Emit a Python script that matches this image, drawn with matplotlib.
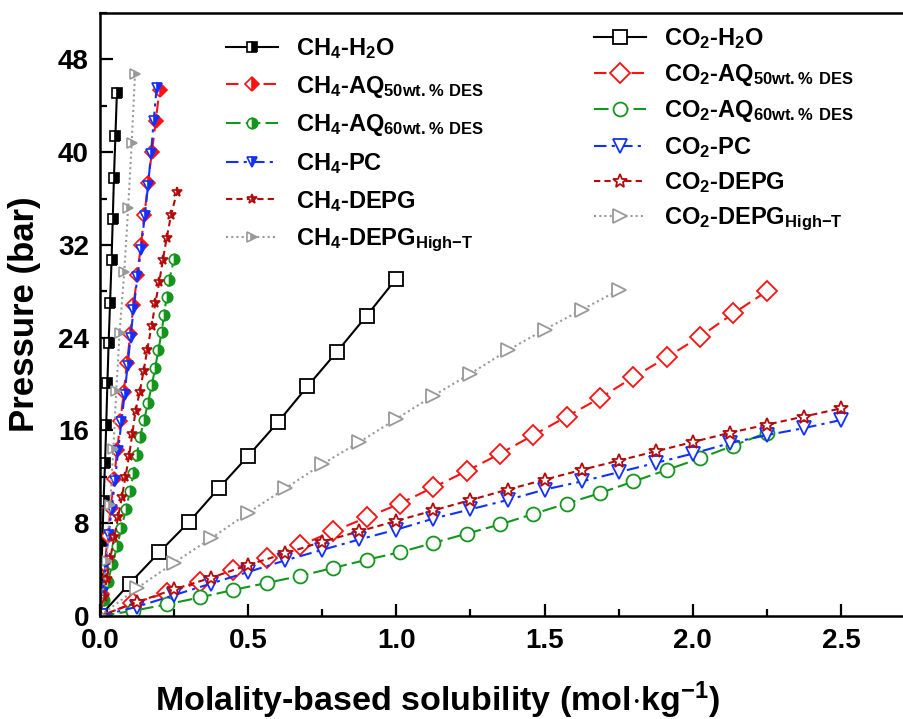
import matplotlib
matplotlib.use("Agg")
import matplotlib.pyplot as plt
from matplotlib.ticker import MultipleLocator

plt.rcParams["font.family"] = ["Liberation Sans", "DejaVu Sans"]
plt.rcParams["font.weight"] = "bold"
plt.rcParams["mathtext.fontset"] = "custom"
plt.rcParams["mathtext.rm"] = "Liberation Sans:bold"
plt.rcParams["mathtext.default"] = "rm"

# ---- CH4 (steep curves near the y axis) ----
ch4_h2o_x = [0, 0.004, 0.008, 0.012, 0.017, 0.021, 0.025, 0.029, 0.034, 0.039, 0.043, 0.047, 0.052, 0.057]
ch4_h2o_y = [0, 3.2, 6.5, 9.9, 13.2, 16.5, 20.1, 23.5, 27.0, 30.7, 34.2, 37.8, 41.4, 45.1]

ch4_aq50_x = [0, 0.007, 0.016, 0.026, 0.036, 0.047, 0.058, 0.069, 0.080, 0.091, 0.102, 0.113,
              0.126, 0.138, 0.150, 0.162, 0.175, 0.188, 0.201]
ch4_aq50_y = [0, 1.9, 4.4, 6.9, 9.3, 11.8, 14.3, 16.8, 19.3, 21.8, 24.3, 26.8,
              29.4, 32.0, 34.6, 37.3, 40.0, 42.7, 45.4]

ch4_aq60_x = [0, 0.012, 0.026, 0.042, 0.058, 0.072, 0.088, 0.101, 0.113, 0.124, 0.135, 0.149,
              0.162, 0.175, 0.186, 0.197, 0.208, 0.216, 0.225, 0.234, 0.250]
ch4_aq60_y = [0, 1.4, 2.9, 4.5, 6.0, 7.6, 9.2, 10.8, 12.3, 13.9, 15.4, 16.9,
              18.4, 19.9, 21.4, 22.9, 24.5, 26.0, 27.5, 29.0, 30.8]

ch4_pc_x = [0, 0.009, 0.019, 0.029, 0.039, 0.050, 0.061, 0.072, 0.083, 0.093, 0.103, 0.113,
            0.126, 0.138, 0.151, 0.162, 0.172, 0.181, 0.191]
ch4_pc_y = [0, 2.0, 4.5, 7.0, 9.1, 11.6, 14.2, 16.7, 19.1, 21.6, 24.0, 26.4,
            29.2, 31.6, 34.5, 37.1, 39.8, 42.7, 45.5]

ch4_depg_x = [0, 0.012, 0.023, 0.035, 0.048, 0.061, 0.074, 0.086, 0.098, 0.109, 0.120, 0.134,
              0.147, 0.159, 0.174, 0.187, 0.200, 0.212, 0.225, 0.240, 0.260]
ch4_depg_y = [0, 1.6, 3.2, 5.0, 6.8, 8.5, 10.3, 12.0, 13.8, 15.7, 17.7, 19.3,
              21.1, 22.9, 25.0, 27.0, 28.8, 30.7, 32.6, 34.6, 36.6]

ch4_depg_ht_x = [0, 0.022, 0.034, 0.045, 0.055, 0.066, 0.082, 0.095, 0.107, 0.118]
ch4_depg_ht_y = [0, 4.7, 9.6, 14.4, 19.4, 24.4, 29.7, 35.2, 40.8, 46.7]

# ---- CO2 ----
co2_h2o_x = [0, 0.1, 0.2, 0.3, 0.4, 0.5, 0.6, 0.7, 0.8, 0.9, 1.0]
co2_h2o_y = [0, 2.8, 5.5, 8.1, 11.0, 13.8, 16.7, 19.8, 22.8, 25.9, 29.1]

co2_aq_x = [0, 0.1125, 0.225, 0.3375, 0.45, 0.5625, 0.675, 0.7875, 0.9, 1.0125, 1.125,
            1.2375, 1.35, 1.4625, 1.575, 1.6875, 1.8, 1.9125, 2.025, 2.1375, 2.25]
co2_aq50_y = [0, 1.1, 2.0, 2.9, 4.0, 5.0, 6.1, 7.3, 8.5, 9.7, 11.1,
              12.5, 14.0, 15.6, 17.2, 18.8, 20.6, 22.3, 24.1, 26.1, 28.0]
co2_aq60_y = [0, 0.45, 1.0, 1.6, 2.25, 2.85, 3.45, 4.15, 4.85, 5.5, 6.3,
              7.1, 7.9, 8.8, 9.7, 10.6, 11.6, 12.6, 13.6, 14.7, 15.8]

co2_org_x = [0, 0.125, 0.25, 0.375, 0.5, 0.625, 0.75, 0.875, 1.0, 1.125, 1.25,
             1.375, 1.5, 1.625, 1.75, 1.875, 2.0, 2.125, 2.25, 2.375, 2.5]
co2_pc_y = [0, 0.8, 1.8, 2.8, 3.8, 4.8, 5.7, 6.6, 7.45, 8.4, 9.2,
            10.0, 10.9, 11.6, 12.4, 13.2, 14.0, 14.9, 15.6, 16.2, 16.9]
co2_depg_y = [0, 1.2, 2.3, 3.3, 4.4, 5.4, 6.4, 7.3, 8.2, 9.1, 10.0,
              10.9, 11.75, 12.6, 13.4, 14.2, 15.0, 15.8, 16.5, 17.2, 17.9]

co2_depg_ht_x = [0, 0.125, 0.25, 0.375, 0.5, 0.625, 0.75, 0.875, 1.0, 1.125, 1.25,
                 1.375, 1.5, 1.625, 1.75]
co2_depg_ht_y = [0, 2.4, 4.6, 6.7, 8.9, 11.0, 13.1, 15.0, 17.0, 19.0, 20.9,
                 22.9, 24.7, 26.4, 28.1]

BLACK = "#000000"
RED = "#ff1010"
GREEN = "#14961e"
BLUE = "#1030ff"
DRED = "#b40a0a"
GREY = "#999999"

fig = plt.figure(figsize=(9.04, 7.19), dpi=100)
ax = fig.add_axes([100 / 904, 103 / 719, 815 / 904, 603 / 719])

# CH4 - half filled markers
ch4_kw = dict(markersize=7.5, fillstyle="right", markerfacecoloralt="white",
              markeredgewidth=1.2, lw=1.5)
h_ch4 = []
h_ch4 += ax.plot(ch4_h2o_x, ch4_h2o_y, "-", marker="s", color=BLACK, **ch4_kw,
                 label=r"CH$_4$-H$_2$O")
h_ch4 += ax.plot(ch4_aq50_x, ch4_aq50_y, marker="D", color=RED, dashes=(6, 3), **ch4_kw,
                 label=r"CH$_4$-AQ$_{50wt.\%\ DES}$")
h_ch4 += ax.plot(ch4_aq60_x, ch4_aq60_y, marker="o", color=GREEN, dashes=(7, 2.5), **ch4_kw,
                 label=r"CH$_4$-AQ$_{60wt.\%\ DES}$")
h_ch4 += ax.plot(ch4_pc_x, ch4_pc_y, marker="v", color=BLUE, dashes=(6, 2.5, 1.5, 2.5), **ch4_kw,
                 label=r"CH$_4$-PC")
h_ch4 += ax.plot(ch4_depg_x, ch4_depg_y, marker="*", color=DRED, dashes=(3, 2), **ch4_kw,
                 label=r"CH$_4$-DEPG")
h_ch4 += ax.plot(ch4_depg_ht_x, ch4_depg_ht_y, marker=">", color=GREY, dashes=(1, 1.5), **ch4_kw,
                 label=r"CH$_4$-DEPG$_{High{-}T}$")

# CO2 - open markers
co2_kw = dict(markersize=10, markerfacecolor="white", markeredgewidth=1.3, lw=1.5)
h_co2 = []
h_co2 += ax.plot(co2_h2o_x, co2_h2o_y, "-", marker="s", color=BLACK, **co2_kw,
                 label=r"CO$_2$-H$_2$O")
h_co2 += ax.plot(co2_aq_x, co2_aq50_y, marker="D", color=RED, dashes=(6, 3), **co2_kw,
                 label=r"CO$_2$-AQ$_{50wt.\%\ DES}$")
h_co2 += ax.plot(co2_aq_x, co2_aq60_y, marker="o", color=GREEN, dashes=(7, 2.5), **co2_kw,
                 label=r"CO$_2$-AQ$_{60wt.\%\ DES}$")
h_co2 += ax.plot(co2_org_x, co2_pc_y, marker="v", color=BLUE, dashes=(6, 2.5, 1.5, 2.5), **co2_kw,
                 label=r"CO$_2$-PC")
h_co2 += ax.plot(co2_org_x, co2_depg_y, marker="*", color=DRED, dashes=(3, 2), **co2_kw,
                 label=r"CO$_2$-DEPG")
h_co2 += ax.plot(co2_depg_ht_x, co2_depg_ht_y, marker=">", color=GREY, dashes=(1, 1.5), **co2_kw,
                 label=r"CO$_2$-DEPG$_{High{-}T}$")

ax.set_xlim(0, 2.75)
ax.set_ylim(0, 52)
ax.xaxis.set_major_locator(MultipleLocator(0.5))
ax.xaxis.set_minor_locator(MultipleLocator(0.25))
ax.yaxis.set_major_locator(MultipleLocator(8))
ax.yaxis.set_minor_locator(MultipleLocator(4))
ax.xaxis.set_major_formatter(plt.FuncFormatter(lambda v, p: f"{v:.1f}"))

ax.tick_params(which="both", direction="in", width=1.6, labelsize=20)
ax.tick_params(which="major", length=9)
ax.tick_params(which="minor", length=5)
ax.tick_params(axis="x", pad=9)
ax.tick_params(axis="y", pad=8)
for s in ax.spines.values():
    s.set_linewidth(1.8)

ax.set_xlabel(r"Molality-based solubility (mol$\cdot$kg$^{-1}$)", fontsize=24.5, fontweight="bold")
ax.set_ylabel("Pressure (bar)", fontsize=25, fontweight="bold")
ax.xaxis.set_label_coords(0.414, -0.105)
ax.yaxis.set_label_coords(-0.072, 0.5)

leg_kw = dict(frameon=False, fontsize=17, handlelength=2.2, handletextpad=0.75,
              borderpad=0, borderaxespad=0, loc="upper left")
leg1 = ax.legend(handles=h_ch4, bbox_to_anchor=(0.155, 0.962), labelspacing=0.54, **leg_kw)
ax.add_artist(leg1)
ax.legend(handles=h_co2, bbox_to_anchor=(0.606, 0.978), labelspacing=0.45, **leg_kw)

fig.savefig("out.png", dpi=100)
